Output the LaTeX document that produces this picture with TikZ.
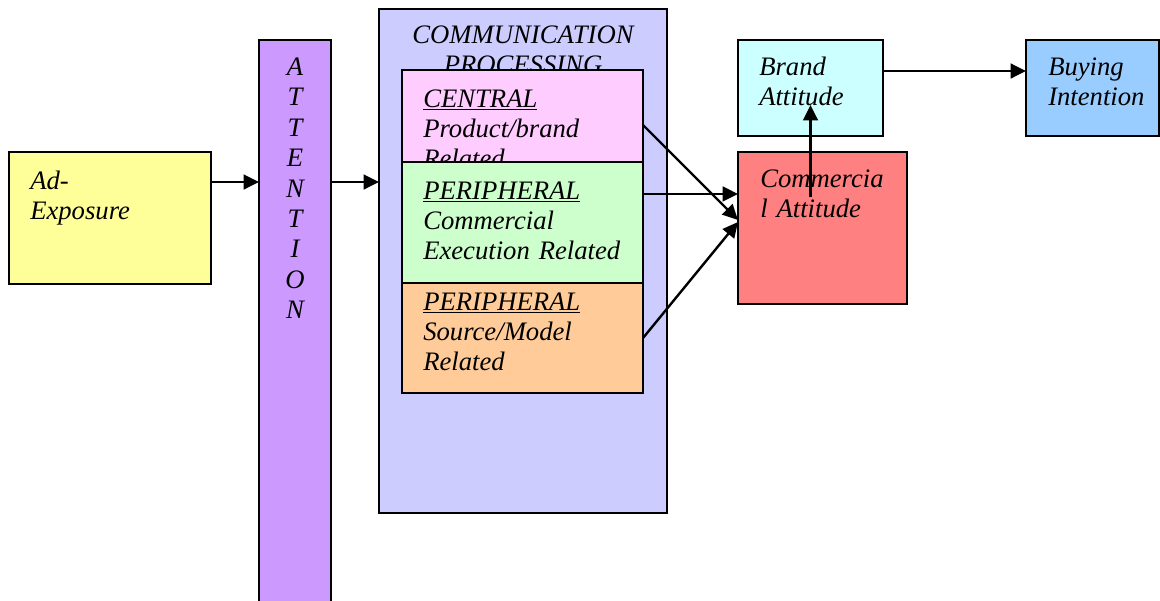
\documentclass[tikz,border=0pt]{standalone}
\usepackage{fontspec}
\setmainfont{Liberation Serif}
\usetikzlibrary{arrows.meta,positioning}

\definecolor{adyellow}{HTML}{FFFF99}
\definecolor{attnpurple}{HTML}{CC99FF}
\definecolor{commblue}{HTML}{CCCCFF}
\definecolor{centralpink}{HTML}{FFCCFF}
\definecolor{execgreen}{HTML}{CCFFCC}
\definecolor{srcorange}{HTML}{FFCC99}
\definecolor{brandcyan}{HTML}{CCFFFF}
\definecolor{buyblue}{HTML}{99CCFF}
\definecolor{commred}{HTML}{FF8080}

\begin{document}
\begin{tikzpicture}[
x=0.75pt, y=-0.75pt,
box/.style={
rectangle,
draw,
line width=1.6pt,
inner sep=0pt,
outer sep=0pt,
anchor=north west
},
boxtext/.style={
inner sep=0pt,
anchor=north west,
align=left,
text width=150pt,
font=\itshape\fontsize{20pt}{22.5pt}\selectfont,
execute at begin node=\strut
},
arrow/.style={
-{Triangle[length=11.5pt,width=11pt]},
line width=1.8pt
}
]
\clip (0,0) rectangle (1160,600);

% Dobozok
\node[box, fill=adyellow, minimum width=151.5pt, minimum height=99pt] (adexp) at (9,152) {};
\node[box, fill=attnpurple, minimum width=54pt, minimum height=435pt] (attn) at (259,40) {};
\node[box, fill=commblue, minimum width=216pt, minimum height=378pt] (comm) at (379,9) {};
\node[boxtext, anchor=north, align=center, text width=210pt] (comm-txt) at ([shift={(0,13)}]comm.north) {COMMUNICATION\\PROCESSING};
\node[box, fill=centralpink, minimum width=180.75pt, minimum height=69pt] (central) at (402,70) {};
\node[boxtext] (central-txt) at ([shift={(21,16)}]central.north west) {\underline{CENTRAL}\\Product/brand\\Related};
\node[box, fill=execgreen, minimum width=180.75pt, minimum height=90.75pt, below=0pt of central] (periph-exec) {};
\node[boxtext] (exec-txt) at ([shift={(21,16)}]periph-exec.north west) {\underline{PERIPHERAL}\\Commercial\\Execution Related};
\node[box, fill=srcorange, minimum width=180.75pt, minimum height=82.5pt, below=0pt of periph-exec] (periph-src) {};
\node[boxtext] (src-txt) at ([shift={(21,6)}]periph-src.north west) {\underline{PERIPHERAL}\\Source/Model\\Related};
\node[box, fill=brandcyan, minimum width=108.75pt, minimum height=72pt] (brand) at (738,40) {};
\node[box, fill=buyblue, minimum width=99.75pt, minimum height=72pt] (buying) at (1026,40) {};
\node[box, fill=commred, minimum width=126.75pt, minimum height=114pt] (commatt) at (738,152) {};

% Szovegek
\node[boxtext] (adexp-txt) at ([shift={(21,16)}]adexp.north west) {Ad-\\Exposure};
\node[boxtext, anchor=north, align=center, text width=40pt, font=\itshape\fontsize{20pt}{22.8pt}\selectfont] (attn-txt) at ([shift={(0,14)}]attn.north) {A\\T\\T\\E\\N\\T\\I\\O\\N};
\node[boxtext] (brand-txt) at ([shift={(21,14)}]brand.north west) {Brand\\Attitude};
\node[boxtext] (buying-txt) at ([shift={(22,14)}]buying.north west) {Buying\\Intention};
\node[boxtext] (commatt-txt) at ([shift={(22,14)}]commatt.north west) {Commercia\\l Attitude};

% Nyilak
\draw[arrow] ([yshift=27pt]adexp.east) coordinate (exp-out) -- (exp-out -| attn.west);
\draw[arrow] (exp-out -| attn.east) -- (exp-out -| comm.west);
\draw[arrow] ([yshift=-6.75pt]central.east) -- ([yshift=6pt]commatt.west);
\draw[arrow] ([yshift=21.4pt]periph-exec.east) coordinate (exec-out) -- (exec-out -| commatt.west);
\draw[arrow] (periph-src.east) -- ([yshift=4.5pt]commatt.west);
\path (brand.south |- commatt.north) ++(0,45) coordinate (ca-up);
\draw[arrow] (ca-up) -- ([yshift=23.25pt]brand.south);
\draw[arrow] ([yshift=12.75pt]brand.east) coordinate (brand-out) -- (brand-out -| buying.west);
\end{tikzpicture}
\end{document}
